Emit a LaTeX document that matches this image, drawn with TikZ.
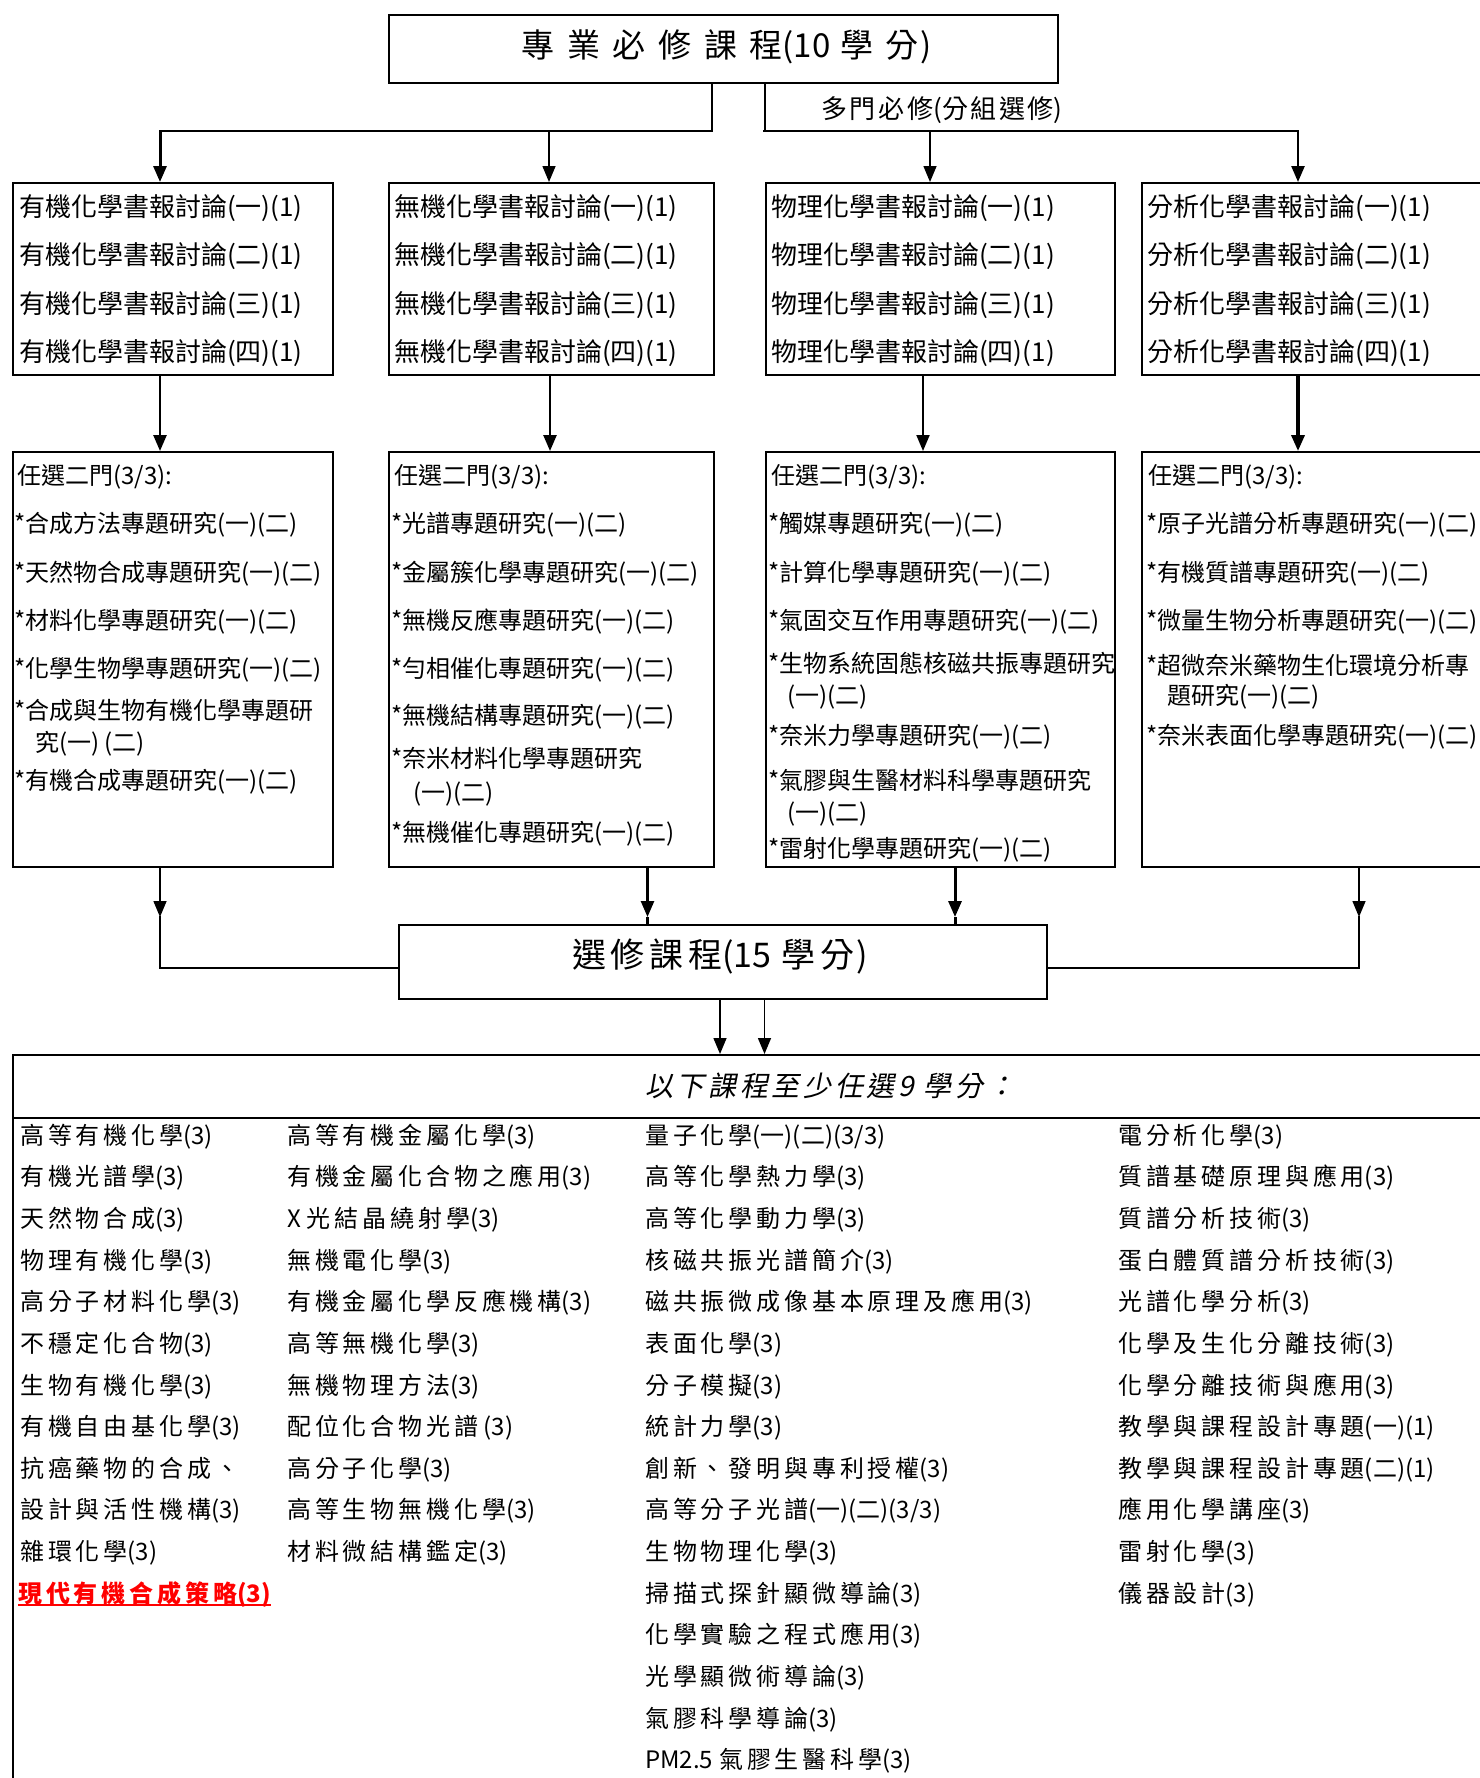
\documentclass[tikz,border=0pt]{standalone}
\usepackage{fontspec}
\setmainfont{Noto Sans CJK TC}
\newfontfamily\plainfam{Noto Sans CJK TC}
\newfontfamily\lsfam{Noto Sans CJK TC}[LetterSpace=16]
\newfontfamily\titlefam{Noto Sans CJK TC}[LetterSpace=38]
\newfontfamily\selfam{Noto Sans CJK TC}[LetterSpace=14]
\newfontfamily\multfam{Noto Sans CJK TC}[LetterSpace=10]
\newfontfamily\headfam{Noto Sans CJK TC}[LetterSpace=13,FakeSlant=0.2]
\usetikzlibrary{arrows.meta}
\newcommand\myfA{\fontsize{26pt}{30pt}\selectfont}
\newcommand\myfB{\fontsize{24pt}{28pt}\selectfont}
\newcommand\myfL{\lsfam\fontsize{24pt}{28pt}\selectfont}
\newcommand\np[1]{{\plainfam #1}}
\begin{document}
\begin{tikzpicture}[x=1pt,y=-1pt,
  box/.style={draw, line width=2pt, rectangle, inner sep=0pt, anchor=north west},
  lbl/.style={anchor=west, inner sep=0pt},
  tone/.style={lbl, font=\myfA, text height=22.9pt, text depth=3.1pt},
  ttwo/.style={lbl, font=\myfB, text height=21.1pt, text depth=2.9pt},
  tlist/.style={lbl, font=\myfL, text height=21.1pt, text depth=2.9pt},
  arr/.style={-{Triangle[length=16pt,width=13pt]}},
  conn/.style={line cap=rect},
]
\useasboundingbox (0,0) rectangle (1480,1778);
\clip (0,0) rectangle (1480,1778);

% ---------- top box ----------
\node[box, minimum width=669pt, minimum height=68pt] (top) at (388,14) {};
\node[inner sep=0pt, font=\titlefam\fontsize{33pt}{36pt}\selectfont] (title) at (727,47) {專業必修課程\np{(10\hspace{10pt}}學分\hspace{2pt}\np{)}};

% ---------- row 1 boxes ----------
\node[box, minimum width=320pt, minimum height=192pt] (A1) at (12,182) {};
\node[box, minimum width=324.6pt, minimum height=192pt] (B1) at (388,182) {};
\node[box, minimum width=349.5pt, minimum height=192pt] (C1) at (764.5,182) {};
\node[box, minimum width=420pt, minimum height=192pt] (D1) at (1141,182) {};

% ---------- row 2 boxes ----------
\node[box, minimum width=320pt, minimum height=415pt] (A2) at (12,451) {};
\node[box, minimum width=324.6pt, minimum height=415pt] (B2) at (388,451) {};
\node[box, minimum width=349.5pt, minimum height=415pt] (C2) at (764.5,451) {};
\node[box, minimum width=420pt, minimum height=415pt] (D2) at (1141,451) {};

% ---------- elective box ----------
\node[box, minimum width=648pt, minimum height=74pt] (sel) at (398,924) {};
\node[inner sep=0pt, font=\selfam\fontsize{34pt}{38pt}\selectfont] (seltxt) at (720,956) {選修課程\np{(15\hspace{10pt}}學分\hspace{2pt}\np{)}};

% ---------- big list box ----------
\node[box, minimum width=1600pt, minimum height=900pt] (big) at (12,1054) {};
\coordinate (sepl) at (12,1118);
\coordinate (sepr) at (1600,1118);
\draw[line width=2pt] (sepl) -- (sepr);

% ---------- connectors from top ----------
\coordinate (jl) at (712,131);
\coordinate (jr) at (764.5,131);
\coordinate (ha) at (160,131);
\coordinate (hb) at (549,131);
\coordinate (hc) at (930,131);
\coordinate (hd) at (1298,131);
\draw[conn, line width=2pt] (top.south -| jl) -- (jl);
\draw[conn, line width=2pt] (top.south -| jr) -- (jr);
\draw[conn, line width=2.5pt] (jl) -- (ha);
\draw[conn, line width=2.5pt] (jr) -- (hd);
\draw[arr, line width=3pt] (ha) -- (ha |- A1.north);
\draw[arr, line width=1.5pt] (hb) -- (hb |- B1.north);
\draw[arr, line width=1.5pt] (hc) -- (hc |- C1.north);
\draw[arr, line width=2.5pt] (hd) -- (hd |- D1.north);
\node[inner sep=0pt, font=\multfam\fontsize{26pt}{30pt}\selectfont] (multi) at (942,110) {多門必修\np{(}分組選修\np{)}};

% ---------- row1 -> row2 ----------
\coordinate (va) at (160,0);
\coordinate (vb) at (550,0);
\coordinate (vc) at (923,0);
\coordinate (vd) at (1298,0);
\draw[arr, line width=2.5pt] (A1.south -| va) -- (A2.north -| va);
\draw[arr, line width=2.5pt] (B1.south -| vb) -- (B2.north -| vb);
\draw[arr, line width=2pt] (C1.south -| vc) -- (C2.north -| vc);
\draw[arr, line width=3.5pt] (D1.south -| vd) -- (D2.north -| vd);

% ---------- row2 -> elective ----------
\coordinate (la) at (160,917);
\coordinate (lc) at (160,968);
\coordinate (ra) at (1359,917);
\coordinate (rc) at (1359,968);
\coordinate (mb) at (647.5,917);
\coordinate (mc) at (955,917);
\draw[arr, line width=1.5pt] (A2.south -| la) -- (la);
\draw[conn, line width=1.5pt] (la) -- (lc);
\draw[conn, line width=2.5pt] (lc) -- (sel.west |- lc);
\draw[arr, line width=1.5pt] (D2.south -| ra) -- (ra);
\draw[conn, line width=1.5pt] (ra) -- (rc);
\draw[conn, line width=2.5pt] (rc) -- (sel.east |- rc);
\draw[arr, line width=2.5pt] (B2.south -| mb) -- (mb);
\draw[line width=2.5pt] (mb) -- (sel.north -| mb);
\draw[arr, line width=3pt] (C2.south -| mc) -- (mc);
\draw[line width=3pt] (mc) -- (sel.north -| mc);

% ---------- elective -> list ----------
\coordinate (ba) at (720,0);
\coordinate (bb) at (764.5,0);
\draw[arr, line width=1.5pt] (sel.south -| ba) -- (big.north -| ba);
\draw[arr, line width=1.5pt] (sel.south -| bb) -- (big.north -| bb);

% ---------- row 1 texts ----------
\foreach \p/\x/\n in {有機/19/a, 無機/394/b, 物理/771/c, 分析/1147/d} {
  \foreach \k [count=\i] in {一,二,三,四}
    \node[tone] (r1\n\i) at (\x, {206.7+48.3*(\i-1)}) {\p 化學書報討論(\k)(1)};
}

% ---------- row 2 texts: A ----------
\node[ttwo] (a0) at (17,475) {任選二門(3/3):};
\node[ttwo] (a1) at (14,523) {*合成方法專題研究(一)(二)};
\node[ttwo] (a2) at (14,572) {*天然物合成專題研究(一)(二)};
\node[ttwo] (a3) at (14,620) {*材料化學專題研究(一)(二)};
\node[ttwo] (a4) at (14,668) {*化學生物學專題研究(一)(二)};
\node[ttwo] (a5) at (14,710) {*合成與生物有機化學專題研};
\node[ttwo] (a6) at (35,742) {究(一) (二)};
\node[ttwo] (a7) at (14,780) {*有機合成專題研究(一)(二)};

% ---------- row 2 texts: B ----------
\node[ttwo] (b0) at (394,475) {任選二門(3/3):};
\node[ttwo] (b1) at (391,523) {*光譜專題研究(一)(二)};
\node[ttwo] (b2) at (391,572) {*金屬簇化學專題研究(一)(二)};
\node[ttwo] (b3) at (391,620) {*無機反應專題研究(一)(二)};
\node[ttwo] (b4) at (391,668) {*勻相催化專題研究(一)(二)};
\node[ttwo] (b5) at (391,715) {*無機結構專題研究(一)(二)};
\node[ttwo] (b6) at (391,758) {*奈米材料化學專題研究};
\node[ttwo] (b7) at (413,792) {(一)(二)};
\node[ttwo] (b8) at (391,832) {*無機催化專題研究(一)(二)};

% ---------- row 2 texts: C ----------
\node[ttwo] (c0) at (771,475) {任選二門(3/3):};
\node[ttwo] (c1) at (768,523) {*觸媒專題研究(一)(二)};
\node[ttwo] (c2) at (768,572) {*計算化學專題研究(一)(二)};
\node[ttwo] (c3) at (768,620) {*氣固交互作用專題研究(一)(二)};
\node[ttwo] (c4) at (768,663) {*生物系統固態核磁共振專題研究};
\node[ttwo] (c5) at (787,695) {(一)(二)};
\node[ttwo] (c6) at (768,735) {*奈米力學專題研究(一)(二)};
\node[ttwo] (c7) at (768,780) {*氣膠與生醫材料科學專題研究};
\node[ttwo] (c8) at (787,812) {(一)(二)};
\node[ttwo] (c9) at (768,848) {*雷射化學專題研究(一)(二)};

% ---------- row 2 texts: D ----------
\node[ttwo] (d0) at (1148,475) {任選二門(3/3):};
\node[ttwo] (d1) at (1146,523) {*原子光譜分析專題研究(一)(二)};
\node[ttwo] (d2) at (1146,572) {*有機質譜專題研究(一)(二)};
\node[ttwo] (d3) at (1146,620) {*微量生物分析專題研究(一)(二)};
\node[ttwo] (d4) at (1146,665) {*超微奈米藥物生化環境分析專};
\node[ttwo] (d5) at (1167,695) {題研究(一)(二)};
\node[ttwo] (d6) at (1146,735) {*奈米表面化學專題研究(一)(二)};

% ---------- list header ----------
\node[lbl, font=\headfam\fontsize{28pt}{32pt}\selectfont, text height=24.6pt, text depth=3.4pt] (hdr) at (645,1086) {以下課程至少任選9 學分：};

% ---------- list columns ----------
\foreach \a/\b [count=\i] in {高等有機化學/{(3)}, 有機光譜學/{(3)}, 天然物合成/{(3)}, 物理有機化學/{(3)}, 高分子材料化學/{(3)}, 不穩定化合物/{(3)}, 生物有機化學/{(3)}, 有機自由基化學/{(3)}, 抗癌藥物的合成、/{}, 設計與活性機構/{(3)}, 雜環化學/{(3)}}
  \node[tlist] (ka\i) at (20, {1135+41.65*(\i-1)}) {\a\np{\b}};
\node[tlist, text=red, font=\myfL\bfseries] (ka12) at (18, {1135+41.65*11}) {現代有機合成策略\np{(3)}};
\draw[red, line width=1.8pt] (ka12.south west) -- (ka12.south east);

\foreach \a/\b [count=\i] in {高等有機金屬化學/{(3)}, 有機金屬化合物之應用/{(3)}, \np{X\hspace{6pt}}光結晶繞射學/{(3)}, 無機電化學/{(3)}, 有機金屬化學反應機構/{(3)}, 高等無機化學/{(3)}, 無機物理方法/{(3)}, 配位化合物光譜/{\ (3)}, 高分子化學/{(3)}, 高等生物無機化學/{(3)}, 材料微結構鑑定/{(3)}}
  \node[tlist] (kb\i) at (287, {1135+41.65*(\i-1)}) {\a\np{\b}};

\foreach \a/\b [count=\i] in {量子化學/{(一)(二)(3/3)}, 高等化學熱力學/{(3)}, 高等化學動力學/{(3)}, 核磁共振光譜簡介/{(3)}, 磁共振微成像基本原理及應用/{(3)}, 表面化學/{(3)}, 分子模擬/{(3)}, 統計力學/{(3)}, 創新、發明與專利授權/{(3)}, 高等分子光譜/{(一)(二)(3/3)}, 生物物理化學/{(3)}, 掃描式探針顯微導論/{(3)}, 化學實驗之程式應用/{(3)}, 光學顯微術導論/{(3)}, 氣膠科學導論/{(3)}, \np{PM2.5\hspace{6pt}}氣膠生醫科學/{(3)}}
  \node[tlist] (kc\i) at (645, {1135+41.65*(\i-1)}) {\a\np{\b}};

\foreach \a/\b [count=\i] in {電分析化學/{(3)}, 質譜基礎原理與應用/{(3)}, 質譜分析技術/{(3)}, 蛋白體質譜分析技術/{(3)}, 光譜化學分析/{(3)}, 化學及生化分離技術/{(3)}, 化學分離技術與應用/{(3)}, 教學與課程設計專題/{(一)(1)}, 教學與課程設計專題/{(二)(1)}, 應用化學講座/{(3)}, 雷射化學/{(3)}, 儀器設計/{(3)}}
  \node[tlist] (kd\i) at (1118, {1135+41.65*(\i-1)}) {\a\np{\b}};
\end{tikzpicture}
\end{document}
